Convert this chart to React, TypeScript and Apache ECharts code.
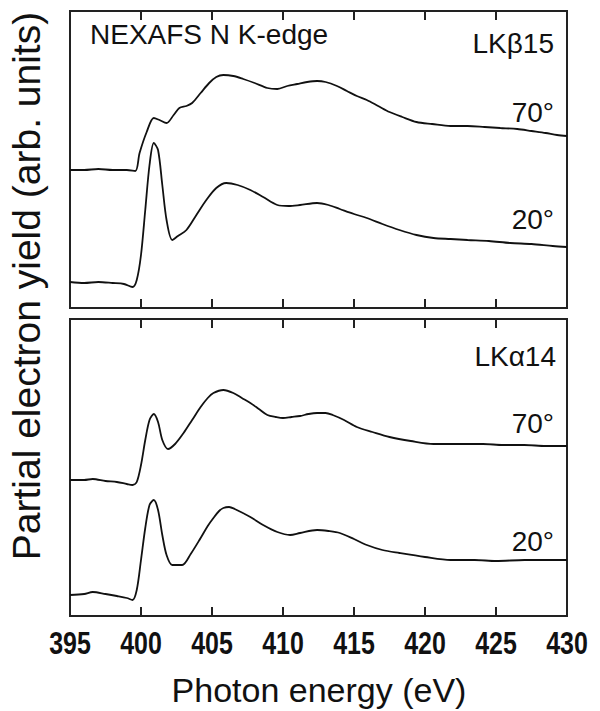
import React, { useEffect, useRef } from "react";
import * as echarts from "echarts";

// Photon energy ticks
const xTicks = [395, 400, 405, 410, 415, 420, 425, 430];

// Upper panel (LKβ15), 70°
const b70E = [395, 396, 397, 398, 399, 399.6, 399.9, 400.4, 400.9, 401.3, 401.8, 402.3, 402.7, 403.2, 403.6, 404.2, 404.8, 405.3, 405.8, 406.5, 407.2, 408, 408.9, 409.6, 410.3, 411, 411.7, 412.4, 413, 413.8, 414.5, 415.2, 415.9, 416.7, 417.5, 418.4, 419.4, 420.5, 421.8, 423, 424.2, 425.3, 426.5, 427.5, 428.5, 429.3, 430];
const b70Y = [138, 138, 139, 138, 138, 137, 155, 176, 190, 188, 185, 193, 200, 202, 205, 215, 225, 231, 233, 232, 229, 225, 220, 219, 222, 224, 226, 227, 226, 222, 217, 212, 208, 202, 196, 191, 186, 184, 182, 182, 181, 180, 179, 177, 175, 173, 172];

// Upper panel (LKβ15), 20°
const b20E = [395, 396, 397, 398, 398.8, 399.4, 399.7, 400, 400.3, 400.6, 400.9, 401.2, 401.5, 401.8, 402.2, 402.6, 403.2, 403.9, 404.6, 405.3, 406, 406.8, 407.7, 408.6, 409.6, 410.4, 411.2, 412.4, 413.2, 414, 415, 415.9, 417, 418.2, 419.4, 420.6, 421.8, 423, 424.5, 426, 427.5, 429, 430];
const b20Y = [26, 25, 26, 25, 24, 21, 28, 53, 98, 143, 165, 158, 123, 88, 68, 72, 78, 93, 108, 120, 125, 123, 118, 111, 103, 102, 103, 105, 103, 99, 94, 90, 84, 78, 73, 70, 69, 68, 67, 65, 64, 62, 61];

// Lower panel (LKα14), 70°
const a70E = [395, 396, 396.6, 397.5, 398.3, 399, 399.4, 399.7, 400, 400.3, 400.6, 400.9, 401.2, 401.5, 401.9, 402.4, 403, 403.6, 404.2, 404.7, 405.1, 405.8, 406.5, 407.1, 407.7, 408.3, 408.9, 409.5, 410, 410.6, 411.2, 411.8, 412.4, 413, 413.5, 414.3, 415.2, 416.3, 417.5, 419, 420.6, 422.3, 424.1, 425.5, 427, 428.5, 430];
const a70Y = [136, 136, 137, 135, 134, 132, 131, 134, 151, 176, 196, 202, 194, 176, 167, 172, 183, 196, 209, 218, 223, 226, 223, 218, 213, 207, 201, 199, 198, 199, 200, 202, 203, 203, 201, 196, 189, 184, 179, 175, 172, 172, 172, 171, 171, 170, 170];

// Lower panel (LKα14), 20°
const a20E = [395, 396, 396.6, 397.5, 398.3, 399, 399.4, 399.7, 400, 400.3, 400.6, 400.9, 401.2, 401.5, 401.8, 402.2, 402.9, 403.5, 404.2, 404.7, 405.1, 405.5, 405.8, 406.2, 406.6, 407.7, 408.6, 409.6, 410.5, 411.2, 412.4, 413.2, 414, 415, 415.9, 417, 418.2, 420, 421.8, 423.5, 425, 427, 428.5, 430];
const a20Y = [21, 22, 24, 22, 20, 18, 16, 26, 56, 88, 111, 116, 106, 81, 61, 51, 51, 62, 78, 90, 98, 105, 108, 109, 107, 99, 91, 84, 81, 83, 86, 85, 83, 77, 71, 66, 63, 59, 56, 56, 55, 56, 56, 56];

const zip = (e: number[], y: number[]) => e.map((v, i) => [v, y[i]]);

const FONT = "'Liberation Sans', Arial, Helvetica, sans-serif";

export default function App() {
  const ref = useRef<HTMLDivElement>(null);
  useEffect(() => {
    document.body.style.margin = "0";
    const chart = echarts.init(ref.current!, undefined, { renderer: "svg" });
    const gridBase = { left: 70, width: 497, height: 297, show: true, borderColor: "#222", borderWidth: 2, backgroundColor: "transparent" };
    const xBase = (gridIndex: number, position: "top" | "bottom") => ({
      type: "value" as const,
      gridIndex,
      position,
      min: xTicks[0],
      max: xTicks[xTicks.length - 1],
      interval: 5,
      axisLine: { show: false },
      axisTick: { show: true, inside: true, length: 9, lineStyle: { color: "#222", width: 2 } },
      splitLine: { show: false },
      axisLabel: { show: false },
    });
    const lineSeries = (name: string, xAxisIndex: number, yAxisIndex: number, data: number[][]) => ({
      type: "line" as const,
      name,
      xAxisIndex,
      yAxisIndex,
      data,
      showSymbol: false,
      smooth: 0.3,
      lineStyle: { color: "#111", width: 1.8 },
    });
    const label = (text: string, x: number, y: number, align: "left" | "right" | "center", size = 28) => ({
      type: "text" as const,
      x,
      y,
      style: { text, fontFamily: FONT, fontSize: size, fill: "#111", textAlign: align, textVerticalAlign: "middle" },
    });
    chart.setOption({
      animation: false,
      grid: [
        { ...gridBase, top: 11 },
        { ...gridBase, top: 319 },
      ],
      xAxis: [xBase(0, "bottom"), xBase(0, "top"), xBase(1, "bottom"), xBase(1, "top")],
      yAxis: [
        { type: "value", gridIndex: 0, min: 0, max: 297, show: false },
        { type: "value", gridIndex: 1, min: 0, max: 297, show: false },
      ],
      series: [
        lineSeries("LKβ15 70°", 0, 0, zip(b70E, b70Y)),
        lineSeries("LKβ15 20°", 0, 0, zip(b20E, b20Y)),
        lineSeries("LKα14 70°", 2, 1, zip(a70E, a70Y)),
        lineSeries("LKα14 20°", 2, 1, zip(a20E, a20Y)),
      ],
    });
    // condensed bold tick labels placed through the bottom x axis scale
    const tickLabels = xTicks.map((v) => {
      const px = chart.convertToPixel({ xAxisIndex: 2 }, v) as number;
      return {
        type: "text" as const,
        x: px,
        y: 643,
        scaleX: 0.78,
        style: {
          text: String(v),
          fontFamily: FONT,
          fontWeight: "bold",
          fontSize: 32,
          fill: "#111",
          textAlign: "center",
          textVerticalAlign: "middle",
        },
      };
    });
    chart.setOption({
      graphic: [
        ...tickLabels,
        label("NEXAFS N K-edge", 90, 34, "left"),
        label("LKβ15", 554, 43, "right"),
        label("70°", 554, 112, "right"),
        label("20°", 554, 219, "right"),
        label("LKα14", 556, 356, "right"),
        label("70°", 554, 423, "right"),
        label("20°", 554, 541, "right"),
        label("Photon energy (eV)", 319, 690, "center", 34),
        {
          type: "text",
          x: 26,
          y: 286,
          rotation: Math.PI / 2,
          style: {
            text: "Partial electron yield (arb. units)",
            fontFamily: FONT,
            fontSize: 39,
            fill: "#111",
            textAlign: "center",
            textVerticalAlign: "middle",
          },
        },
      ],
    });
    return () => chart.dispose();
  }, []);
  return <div ref={ref} style={{ width: 600, height: 711 }} />;
}
